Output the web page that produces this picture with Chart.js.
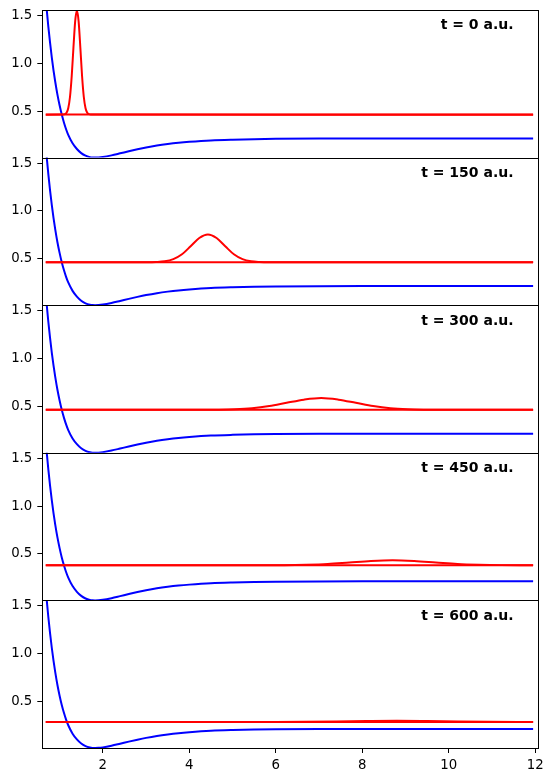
<!DOCTYPE html>
<html lang="en">
<head>
  <meta charset="UTF-8"/>
  <title>Wave packet in a Morse potential</title>
  <script src="https://cdn.jsdelivr.net/npm/chart.js"></script>
  <style>
    body { margin: 0; background: #ffffff; width: 553px; height: 783px; position: relative; overflow: hidden; }
    .panel { position: absolute; left: 0; width: 553px; }
  </style>
</head>
<body>
<div id="panels"></div>

<script>
// potential curve (blue)
const xPot = [0.68, 0.70, 0.74, 0.78, 0.82, 0.86, 0.90, 0.95, 1.0, 1.05, 1.1, 1.15, 1.2, 1.3, 1.4, 1.5, 1.6, 1.7, 1.76, 1.82, 1.9, 2.0, 2.2, 2.4, 2.6, 2.8, 3.0, 3.25, 3.5, 3.75, 4.0, 4.5, 5.0, 5.5, 6.0, 7.0, 8.0, 9.0, 10.0, 11.0, 11.95];
const vPot = [1.677, 1.572, 1.381, 1.212, 1.059, 0.924, 0.804, 0.672, 0.56, 0.463, 0.381, 0.31, 0.251, 0.163, 0.103, 0.06, 0.033, 0.018, 0.014, 0.013, 0.0144, 0.0195, 0.0364, 0.0576, 0.0794, 0.1, 0.119, 0.139, 0.155, 0.168, 0.178, 0.193, 0.201, 0.206, 0.209, 0.212, 0.213, 0.213, 0.213, 0.213, 0.213];

// panel labels and mean energy (flat red line)
const timeLabels = ['t = 0 a.u.', 't = 150 a.u.', 't = 300 a.u.', 't = 450 a.u.', 't = 600 a.u.'];
const energies = [0.463, 0.463, 0.463, 0.381, 0.286];
const xLine = [0.68, 11.95];

// wave packets (red), one pair of arrays per panel
const packet0X = [0.68, 1.08, 1.12, 1.16, 1.20, 1.24, 1.28, 1.32, 1.36, 1.40, 1.44, 1.48, 1.52, 1.56, 1.60, 1.64, 1.68, 1.72, 11.95];
const packet0Y = [0.462, 0.463, 0.467, 0.482, 0.530, 0.647, 0.864, 1.162, 1.438, 1.552, 1.438, 1.162, 0.864, 0.647, 0.530, 0.482, 0.467, 0.463, 0.462];
const packet1X = [0.68, 3.03, 3.23, 3.43, 3.63, 3.83, 4.03, 4.23, 4.43, 4.63, 4.83, 5.03, 5.23, 5.43, 5.63, 5.83, 11.95];
const packet1Y = [0.463, 0.463, 0.465, 0.472, 0.495, 0.546, 0.630, 0.716, 0.753, 0.716, 0.630, 0.546, 0.495, 0.472, 0.465, 0.463, 0.463];
const packet2X = [0.68, 4.25, 4.65, 5.05, 5.45, 5.85, 6.25, 6.65, 7.05, 7.45, 7.85, 8.25, 8.65, 9.05, 9.45, 9.85, 11.95];
const packet2Y = [0.463, 0.463, 0.464, 0.468, 0.479, 0.502, 0.536, 0.569, 0.586, 0.569, 0.536, 0.502, 0.479, 0.468, 0.464, 0.463, 0.463];
const packet3X = [0.68, 5.7, 6.2, 6.7, 7.2, 7.7, 8.2, 8.7, 9.2, 9.7, 10.2, 10.7, 11.2, 11.95];
const packet3Y = [0.381, 0.381, 0.382, 0.386, 0.394, 0.410, 0.426, 0.434, 0.426, 0.410, 0.394, 0.386, 0.382, 0.381];
const packet4X = [0.68, 6.0, 6.7, 7.4, 8.1, 8.8, 9.5, 10.2, 10.9, 11.6, 11.95];
const packet4Y = [0.286, 0.286, 0.287, 0.290, 0.295, 0.298, 0.295, 0.290, 0.287, 0.286, 0.286];
const packetsX = [packet0X, packet1X, packet2X, packet3X, packet4X];
const packetsY = [packet0Y, packet1Y, packet2Y, packet3Y, packet4Y];

const yTicks = [0.5, 1.0, 1.5];
const xTicks = [2, 4, 6, 8, 10, 12];

// layout
const PLOT_LEFT = 42.3, PLOT_RIGHT = 538.3;
const FIRST_TOP = 10, PANEL_H = 147.6;
const X_MIN = 0.6, X_MAX = 12.07, Y_MIN = 0.013, Y_MAX = 1.557;
const tickFont = { family: 'DejaVu Sans', size: 13.3 };

const toPoints = (xs, ys) => xs.map((x, i) => ({ x: x, y: ys[i] }));

const framePlugin = {
  id: 'frame',
  afterDatasetsDraw(chart, args, opts) {
    const a = chart.chartArea;
    const ctx = chart.ctx;
    ctx.save();
    ctx.strokeStyle = '#000';
    ctx.lineWidth = 1;
    const l = Math.round(a.left) + 0.5, r = Math.round(a.right) + 0.5;
    const t = Math.round(a.top) + 0.5, b = Math.round(a.bottom) + 0.5;
    ctx.strokeRect(l, t, r - l, b - t);
    ctx.fillStyle = '#000';
    ctx.font = 'bold 14px "DejaVu Sans"';
    ctx.textAlign = 'right';
    ctx.textBaseline = 'alphabetic';
    ctx.fillText(opts.label, a.left + 0.95 * (a.right - a.left), a.top + 19.3);
    ctx.restore();
  }
};

const holder = document.getElementById('panels');

timeLabels.forEach((label, i) => {
  const isLast = i === timeLabels.length - 1;
  const panelTop = FIRST_TOP + i * PANEL_H;
  const divTop = Math.floor(panelTop) - 10;
  const divH = isLast ? 210 : 172;
  const padTop = panelTop - divTop;
  const xAxisH = isLast ? 30 : 0;
  const padBottom = divH - padTop - PANEL_H - xAxisH;

  const div = document.createElement('div');
  div.className = 'panel';
  div.style.top = divTop + 'px';
  div.style.height = divH + 'px';
  const canvas = document.createElement('canvas');
  div.appendChild(canvas);
  holder.appendChild(div);

  new Chart(canvas, {
    type: 'line',
    data: {
      datasets: [
        { data: toPoints(packetsX[i], packetsY[i]), borderColor: '#ff0000' },
        { data: toPoints(xLine, [energies[i], energies[i]]), borderColor: '#ff0000' },
        { data: toPoints(xPot, vPot), borderColor: '#0000ff' }
      ]
    },
    options: {
      responsive: true,
      maintainAspectRatio: false,
      animation: false,
      devicePixelRatio: 1,
      layout: { padding: { left: 0, right: 553 - PLOT_RIGHT, top: padTop, bottom: padBottom } },
      elements: {
        point: { radius: 0 },
        line: { borderWidth: 2, cubicInterpolationMode: 'monotone', fill: false }
      },
      datasets: { line: { clip: 0 } },
      plugins: {
        legend: { display: false },
        tooltip: { enabled: false },
        frame: { label: label }
      },
      scales: {
        x: {
          type: 'linear',
          min: X_MIN,
          max: X_MAX,
          display: isLast,
          afterBuildTicks: s => { s.ticks = xTicks.map(v => ({ value: v })); },
          afterFit: s => { s.height = xAxisH; s.paddingLeft = 0; s.paddingRight = 0; },
          grid: { display: true, drawOnChartArea: false, drawTicks: true, tickLength: 5, color: '#000' },
          border: { display: false },
          ticks: { color: '#000', font: tickFont, padding: 5, maxRotation: 0, autoSkip: false, callback: v => String(v) }
        },
        y: {
          type: 'linear',
          min: Y_MIN,
          max: Y_MAX,
          afterBuildTicks: s => { s.ticks = yTicks.map(v => ({ value: v })); },
          afterFit: s => { s.width = PLOT_LEFT; s.paddingTop = 0; s.paddingBottom = 0; },
          grid: { display: true, drawOnChartArea: false, drawTicks: true, tickLength: 5, color: '#000' },
          border: { display: false },
          ticks: { color: '#000', font: tickFont, padding: 5, autoSkip: false, callback: v => v.toFixed(1) }
        }
      }
    },
    plugins: [framePlugin]
  });
});
</script>
</body>
</html>
